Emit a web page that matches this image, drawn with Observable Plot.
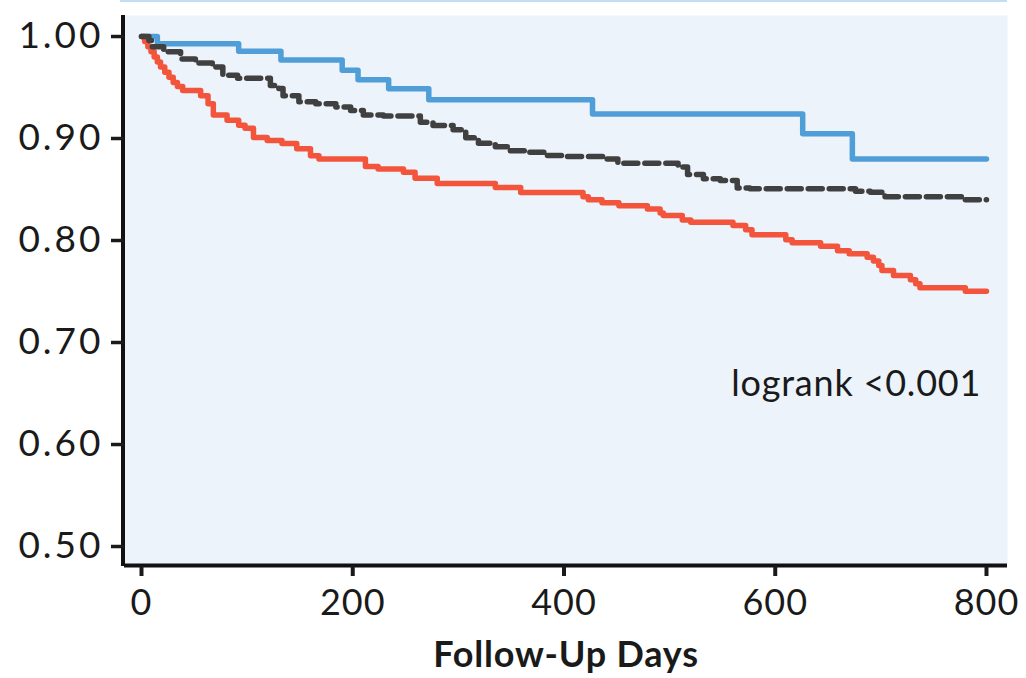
<!DOCTYPE html>
<html>
<head>
<meta charset="utf-8">
<script src="https://cdn.jsdelivr.net/npm/d3@7"></script>
<script src="https://cdn.jsdelivr.net/npm/@observablehq/plot@0.6"></script>
<style>
  html, body { margin: 0; padding: 0; background: #ffffff; }
  #wrap { position: relative; width: 1026px; height: 678px; }
  #topline { position: absolute; left: 120px; top: 0px; width: 887px; height: 2px; background: #c3def4; }
</style>
</head>
<body>
<div id="wrap"><div id="topline"></div></div>
<script>
// ---- data ----
const xTicks = [0, 200, 400, 600, 800];
const yTicks = [0.5, 0.6, 0.7, 0.8, 0.9, 1.0];
const xLabel = "Follow-Up Days";
const note = "logrank <0.001";
const noteDay = 795;
const noteSurv = 0.659;

const blueDays = [0, 15, 92, 132, 190, 205, 234, 272, 427, 626, 673, 800];
const blueSurv = [1.0, 0.993, 0.9856, 0.977, 0.967, 0.9575, 0.9487, 0.938, 0.924, 0.9046, 0.880, 0.880];

const redDays = [0,3,6,9,12,15,18,22,26,30,34,39,56,63,68,81,92,98,106,119,133,147,160,168,212,224,248,259,280,335,359,418,423,436,452,479,491,494,512,520,560,572,578,610,616,643,659,670,687,693,698,701,712,728,733,737,780,800];
const redSurv = [1.000,0.995,0.990,0.985,0.980,0.975,0.970,0.965,0.960,0.955,0.951,0.947,0.942,0.934,0.923,0.918,0.913,0.910,0.901,0.898,0.895,0.890,0.883,0.880,0.8725,0.870,0.867,0.861,0.856,0.852,0.847,0.843,0.840,0.837,0.834,0.831,0.827,0.8245,0.820,0.818,0.8147,0.8105,0.8056,0.8007,0.7977,0.7944,0.790,0.787,0.7836,0.780,0.7755,0.7706,0.7657,0.7615,0.7575,0.7536,0.7503,0.7503];

const grayDays = [0,7,10,21,37,51,67,77,91,122,130,134,149,165,184,198,210,229,264,276,295,307,319,335,348,366,384,400,437,451,508,517,532,548,564,576,676,690,704,780,800];
const graySurv = [1.000,0.996,0.990,0.985,0.978,0.974,0.970,0.962,0.959,0.952,0.949,0.942,0.936,0.934,0.931,0.9275,0.923,0.922,0.916,0.9127,0.9085,0.9007,0.8954,0.892,0.888,0.8866,0.8833,0.8824,0.880,0.8758,0.872,0.8647,0.8605,0.8588,0.8516,0.8507,0.8484,0.8474,0.843,0.840,0.840];

const xDomain = [-16.1, 819.9];
const yDomain = [0.4804, 1.0206];

const toRows = (days, surv) => days.map((d, i) => ({day: d, surv: surv[i]}));
const blue = toRows(blueDays, blueSurv);
const red = toRows(redDays, redSurv);
const gray = toRows(grayDays, graySurv);

const chart = Plot.plot({
  width: 1026,
  height: 678,
  marginLeft: 124,
  marginRight: 19,
  marginTop: 15,
  marginBottom: 112,
  style: {fontFamily: "Lato", fontSize: "36px", color: "#1a1a1a", background: "transparent", overflow: "visible"},
  x: {domain: xDomain},
  y: {domain: yDomain},
  marks: [
    Plot.frame({fill: "#ecf3fb", stroke: null}),
    Plot.line(blue, {x: "day", y: "surv", curve: "step-after", stroke: "#4f9ed8", strokeWidth: 5.5}),
    Plot.line(red, {x: "day", y: "surv", curve: "step-after", stroke: "#f2553c", strokeWidth: 5.5}),
    Plot.line(gray, {x: "day", y: "surv", curve: "step-after", stroke: "#404040", strokeWidth: 5.5, strokeDasharray: "14,7"}),
    Plot.ruleX([xDomain[0]], {stroke: "#111", strokeWidth: 4, dx: -1.5}),
    Plot.ruleY([yDomain[0]], {stroke: "#111", strokeWidth: 4, dy: -1}),
    Plot.axisY({ticks: yTicks, tickFormat: d => d.toFixed(2), tickSize: 13, tickPadding: 8, strokeWidth: 3.5, label: null, fontSize: 37}),
    Plot.axisX({ticks: xTicks, tickFormat: d => String(d), tickSize: 10, tickPadding: 13, strokeWidth: 4, label: null}),
    Plot.text([xLabel], {frameAnchor: "bottom", dy: 100, fontWeight: "bold", fontSize: 36, fill: "#1a1a1a"}),
    Plot.text([note], {x: () => noteDay, y: () => noteSurv, textAnchor: "end", fontSize: 36, fill: "#1a1a1a"})
  ]
});
d3.select(chart).selectAll('[aria-label="y-axis tick label"] text').style("letter-spacing", "3px");
d3.select(chart).selectAll('[aria-label="x-axis tick label"] text').style("letter-spacing", "1px");
d3.select(chart).selectAll('[aria-label="text"] text').style("letter-spacing", "0.8px");
document.getElementById("wrap").appendChild(chart);
</script>
</body>
</html>
